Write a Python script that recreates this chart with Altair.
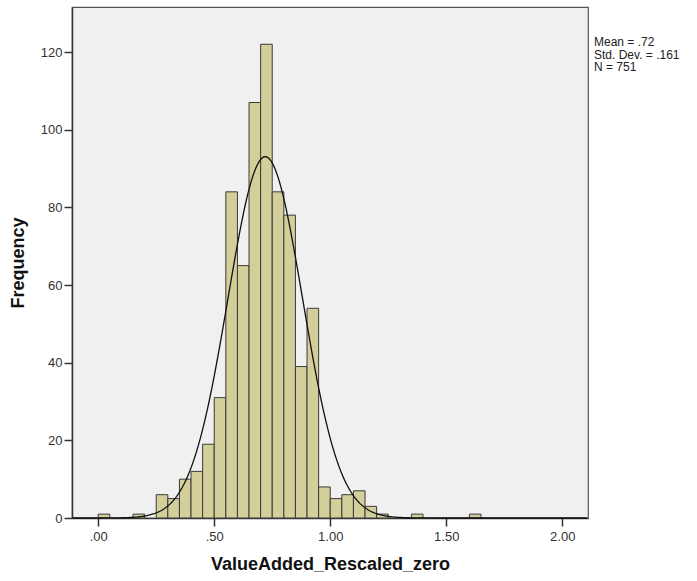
import altair as alt
import pandas as pd

# Histogram bins (width .05) and counts
bin_starts = [0.00, 0.15, 0.25, 0.30, 0.35, 0.40, 0.45, 0.50, 0.55, 0.60,
              0.65, 0.70, 0.75, 0.80, 0.85, 0.90, 0.95, 1.00, 1.05, 1.10,
              1.15, 1.20, 1.35, 1.60]
counts = [1, 1, 6, 5, 10, 12, 19, 31, 84, 65,
          107, 122, 84, 78, 39, 54, 8, 5, 6, 7,
          3, 1, 1, 1]
bin_width = 0.05

mean_val = 0.72
sd_val = 0.161
n_val = 751
stats_lines = ["Mean = .72", "Std. Dev. = .161", "N = 751"]

x_ticks = [0.0, 0.5, 1.0, 1.5, 2.0]
y_ticks = [0, 20, 40, 60, 80, 100, 120]

hist = pd.DataFrame({"start": bin_starts, "count": counts})
hist["end"] = hist["start"] + bin_width

x_scale = alt.Scale(domain=[-0.113, 2.111], nice=False, zero=False)
y_scale = alt.Scale(domain=[0, 131.6], nice=False)

font = "Liberation Sans"

bars = alt.Chart(hist).mark_bar(
    fill="#D3CF9A", stroke="#3A3A3A", strokeWidth=1, opacity=1
).encode(
    x=alt.X("start:Q", scale=x_scale,
            axis=alt.Axis(values=x_ticks, title="ValueAdded_Rescaled_zero",
                          labelExpr="datum.value < 1 ? slice(format(datum.value, '.2f'), 1) : format(datum.value, '.2f')",
                          grid=False, tickSize=8, labelPadding=4, titlePadding=12)),
    x2="end:Q",
    y=alt.Y("count:Q", scale=y_scale,
            axis=alt.Axis(values=y_ticks, title="Frequency", grid=False,
                          tickSize=8, labelPadding=2, titlePadding=13)),
    y2=alt.datum(0),
)

curve = alt.Chart(alt.sequence(-0.11, 2.11, 0.004, as_="x")).transform_calculate(
    y=f"{n_val}*{bin_width}*exp(-0.5*pow((datum.x-{mean_val})/{sd_val},2))/({sd_val}*sqrt(2*PI))"
).mark_line(color="#111111", strokeWidth=1.3).encode(
    x=alt.X("x:Q", scale=x_scale),
    y=alt.Y("y:Q", scale=y_scale),
)

stats = alt.Chart(pd.DataFrame({"t": ["\n".join(stats_lines)]})).mark_text(
    align="left", baseline="top", font=font, fontSize=12, color="#222222",
    lineBreak="\n", lineHeight=12.5
).encode(
    x=alt.value(522),
    y=alt.value(30),
    text="t:N",
)

chart = alt.layer(bars, curve, stats).properties(
    width=516, height=511,
    padding={"left": 72, "top": 7, "right": 109, "bottom": 63},
    autosize=alt.AutoSizeParams(type="none"),
    background="white",
).configure_view(
    fill="#F0F0F0", stroke="#555555", strokeWidth=1.2
).configure_axis(
    labelFont=font, labelFontSize=13, labelColor="#333333",
    titleFont=font, titleFontSize=18, titleFontWeight="bold", titleColor="#111111",
    domainColor="#333333", domainWidth=1.5, tickColor="#333333", tickWidth=1.5,
)

chart.save("out.html", embed_options={"renderer": "svg", "actions": False})
